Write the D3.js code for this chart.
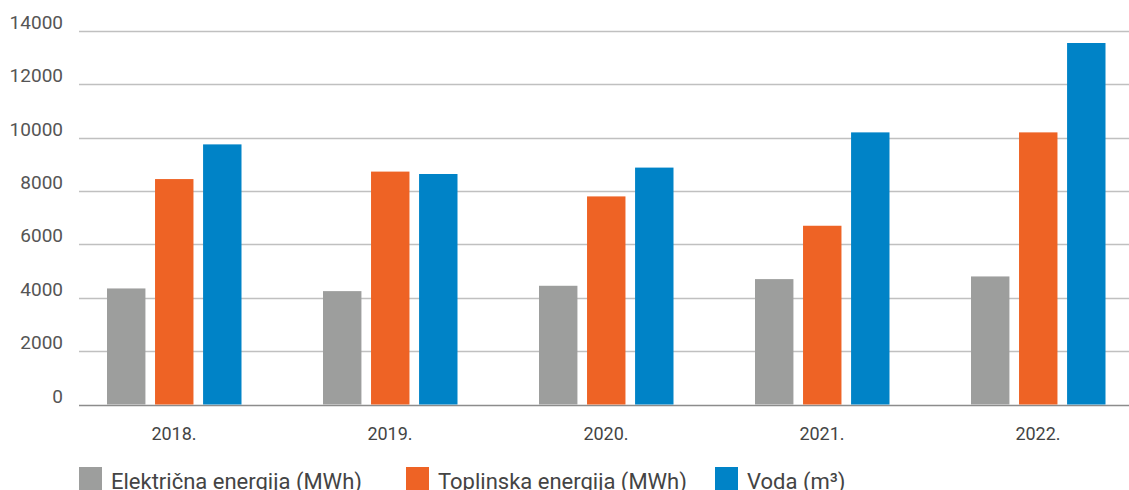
<!DOCTYPE html>
<html>
<head>
<meta charset="utf-8">
<script src="https://cdn.jsdelivr.net/npm/d3@7"></script>
<style>
  html, body { margin: 0; padding: 0; background: #fff; overflow: hidden; }
  text { font-family: Roboto, "Noto Sans", sans-serif; }
</style>
</head>
<body>
<svg id="chart"></svg>
<script>
// data
const years = ["2018.", "2019.", "2020.", "2021.", "2022."];
const seriesNames = ["Električna energija (MWh)", "Toplinska energija (MWh)", "Voda (m³)"];
const elektricna = [4350, 4250, 4450, 4700, 4800];
const toplinska = [8450, 8730, 7800, 6700, 10200];
const voda = [9750, 8640, 8880, 10200, 13550];
const yTicks = [0, 2000, 4000, 6000, 8000, 10000, 12000, 14000];
const colors = ["#9d9e9d", "#ee6325", "#0083c7"];

const width = 1129, height = 490;
const values = [elektricna, toplinska, voda];

const svg = d3.select("#chart")
    .attr("width", width)
    .attr("height", height);

const y = d3.scaleLinear()
    .domain([0, 14000])
    .range([404.5, 31]);

const x0 = d3.scaleBand()
    .domain(years)
    .range([66, 1146]);

const x1 = d3.scaleBand()
    .domain(seriesNames)
    .range([41, 175.5])
    .paddingInner(0.2);

const color = d3.scaleOrdinal().domain(seriesNames).range(colors);

// gridlines
svg.append("g")
    .selectAll("line")
    .data(yTicks)
    .join("line")
    .attr("x1", 79)
    .attr("x2", 1129)
    .attr("y1", d => Math.round(y(d)) + 0.5)
    .attr("y2", d => Math.round(y(d)) + 0.5)
    .attr("stroke", d => d === 0 ? "#8c8c8c" : "#c0c0c0")
    .attr("stroke-width", 1.5);

// y labels
svg.append("g")
    .selectAll("text")
    .data(yTicks)
    .join("text")
    .attr("x", 63)
    .attr("y", d => y(d) - 2)
    .attr("text-anchor", "end")
    .style("font-size", "19px")
    .attr("fill", "#555")
    .text(d => d);

// bars
const rows = years.map((yr, i) => ({ year: yr, vals: seriesNames.map((s, j) => ({ key: s, value: values[j][i] })) }));

const groups = svg.append("g")
    .selectAll("g")
    .data(rows)
    .join("g")
    .attr("transform", d => `translate(${x0(d.year)},0)`);

groups.selectAll("rect")
    .data(d => d.vals)
    .join("rect")
    .attr("x", d => x1(d.key))
    .attr("y", d => y(d.value))
    .attr("width", x1.bandwidth())
    .attr("height", d => y(0) - y(d.value))
    .attr("fill", d => color(d.key));

// x labels
svg.append("g")
    .selectAll("text")
    .data(years)
    .join("text")
    .attr("x", d => x0(d) + x0.bandwidth() / 2)
    .attr("y", 440)
    .attr("text-anchor", "middle")
    .style("font-size", "18px")
    .attr("fill", "#444")
    .text(d => d);

// legend
const legendX = [79, 406, 715];
const legend = svg.append("g")
    .selectAll("g")
    .data(seriesNames)
    .join("g")
    .attr("transform", (d, i) => `translate(${legendX[i]},467)`);

legend.append("rect")
    .attr("width", 23)
    .attr("height", 25)
    .attr("fill", d => color(d));

legend.append("text")
    .attr("x", 32)
    .attr("y", 22)
    .style("font-size", "22px")
    .attr("fill", "#444")
    .text(d => d);
</script>
</body>
</html>
